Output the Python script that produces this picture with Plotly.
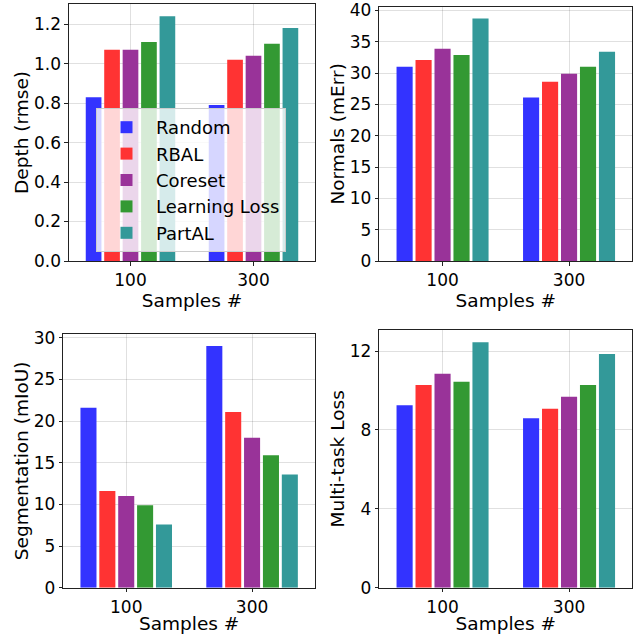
import plotly.graph_objects as go

samples = ["100", "300"]
methods = ["Random", "RBAL", "Coreset", "Learning Loss", "PartAL"]
colors = ["rgb(51,51,255)", "rgb(255,51,51)", "rgb(153,51,153)", "rgb(51,153,51)", "rgb(51,153,153)"]

depth = {
    "Random": [0.83, 0.79],
    "RBAL": [1.07, 1.02],
    "Coreset": [1.07, 1.04],
    "Learning Loss": [1.11, 1.10],
    "PartAL": [1.24, 1.18],
}
normals = {
    "Random": [31.0, 26.1],
    "RBAL": [32.1, 28.6],
    "Coreset": [33.9, 29.9],
    "Learning Loss": [32.9, 31.0],
    "PartAL": [38.7, 33.4],
}
segmentation = {
    "Random": [21.6, 29.0],
    "RBAL": [11.6, 21.1],
    "Coreset": [11.0, 18.0],
    "Learning Loss": [9.9, 15.9],
    "PartAL": [7.6, 13.6],
}
multitask = {
    "Random": [9.25, 8.6],
    "RBAL": [10.28, 9.07],
    "Coreset": [10.85, 9.68],
    "Learning Loss": [10.44, 10.28],
    "PartAL": [12.45, 11.85],
}

panels = [
    (depth, "Depth (rmse)", [0, 1.302], [0, 0.2, 0.4, 0.6, 0.8, 1.0, 1.2], ["0.0", "0.2", "0.4", "0.6", "0.8", "1.0", "1.2"]),
    (normals, "Normals (mErr)", [0, 40.6], [0, 5, 10, 15, 20, 25, 30, 35, 40], None),
    (segmentation, "Segmentation (mIoU)", [0, 30.45], [0, 5, 10, 15, 20, 25, 30], None),
    (multitask, "Multi-task Loss", [0, 13.07], [0, 4, 8, 12], None),
]

W, H = 639, 634
# pixel boxes (left, right, top, bottom)
boxes = [
    (69, 315, 4, 261),
    (379.3, 632.3, 6.7, 261),
    (63.3, 315, 334, 587.7),
    (379.3, 632.3, 330, 587.7),
]

fig = go.Figure()
font = "DejaVu Sans"
for i, (data, ytitle, yr, tv, tt) in enumerate(panels):
    sfx = "" if i == 0 else str(i + 1)
    for m, c in zip(methods, colors):
        fig.add_trace(go.Bar(
            x=samples, y=data[m], name=m, marker_color=c, marker_line_width=0,
            showlegend=(i == 0),
            xaxis="x" + sfx, yaxis="y" + sfx,
        ))
    l, r, t, b = boxes[i]
    common = dict(showline=True, linecolor="#222", linewidth=1.2, mirror=True,
                  ticks="outside", ticklen=3.5, tickcolor="#222", automargin=False,
                  showgrid=True, gridcolor="rgba(0,0,0,0.12)", gridwidth=1,
                  tickfont=dict(size=17, color="black", family=font), zeroline=False)
    fig.layout["xaxis" + sfx] = dict(
        domain=[l / W, r / W], anchor="y" + sfx, type="category", range=[-0.5, 1.5],
        title=dict(text="Samples #", font=dict(size=18.5, color="black", family=font), standoff=0),
        **common)
    yax = dict(domain=[1 - b / H, 1 - t / H], anchor="x" + sfx, range=yr, tickvals=tv,
               title=dict(text=ytitle, font=dict(size=18.5, color="black", family=font), standoff=0),
               **common)
    if tt:
        yax["ticktext"] = tt
    fig.layout["yaxis" + sfx] = yax

fig.update_layout(
    width=W, height=H,
    margin=dict(l=0, r=0, t=0, b=0),
    paper_bgcolor="white", plot_bgcolor="white",
    barmode="group", bargap=0.25, bargroupgap=0.15,
    font=dict(family=font, color="black"),
    legend=dict(x=96 / W, y=1 - 108 / H, xanchor="left", yanchor="top",
                bgcolor="rgba(255,255,255,0.8)", bordercolor="#cccccc", borderwidth=1,
                font=dict(size=18, family=font, color="black"),
                itemwidth=49, tracegroupgap=0),
)

fig.write_html("out.html", config={"displayModeBar": False},
               post_script="document.body.style.margin='0';")
